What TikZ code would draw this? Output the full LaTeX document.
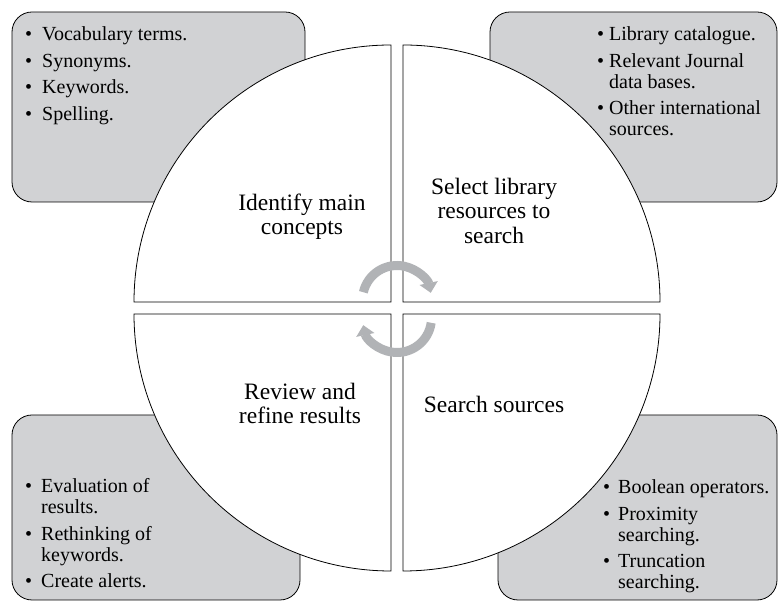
\documentclass[tikz,border=0pt]{standalone}
\usepackage{fontspec}
\setmainfont{Liberation Serif}
\usepackage{xcolor}
\usepackage{tikz}
\usetikzlibrary{arrows.meta,positioning}
\definecolor{notegray}{RGB}{209,210,212}
\definecolor{cyclegray}{RGB}{177,179,182}

\begin{document}
\begin{tikzpicture}[x=1pt,y=1pt]
                \tikzstyle{note} = [draw, fill=notegray, rounded corners=20pt, line width=0.8pt]
                \tikzstyle{quarter} = [draw, fill=white, line width=0.8pt]
                \tikzstyle{stage} = [align=center, inner sep=0pt, font=\fontsize{23.5}{24.5}\selectfont]
                \tikzstyle{notetext} = [anchor=base west, inner sep=0pt, font=\fontsize{20}{21}\selectfont]
                \tikzstyle{cycle} = [cyclegray, line width=9pt, -{Triangle[length=10pt,width=18pt]}]
                
                \useasboundingbox (0,0) rectangle (778,601);
                
                \draw [note] (12,399) rectangle (305,589);
                \draw [note] (490,399) rectangle (777,589);
                \draw [note] (12,1) rectangle (300,186);
                \draw [note] (498,1) rectangle (777,186);
                
                \draw [quarter] (391,299) -- ++(-257,0) arc (180:90:257) -- cycle;
                \draw [quarter] (403,299) -- ++(0,257) arc (90:0:257) -- cycle;
                \draw [quarter] (391,287) -- ++(0,-257) arc (270:180:257) -- cycle;
                \draw [quarter] (403,287) -- ++(257,0) arc (0:-90:257) -- cycle;
                
                \node [stage] (identify) at (302,384.5) {Identify main\\concepts};
                \node [stage] (select) at (494,390.5) {Select library\\resources to\\search};
                \node [stage] (review) at (300,197.5) {Review and\\refine results};
                \node [stage] (search-sources) at (494,197) {Search sources};
                
                \node [notetext] (concepts-notes) at (25,560) {\begin{tabular}[t]{@{}l@{\hspace{10pt}}l@{}}
                    \textbullet & Vocabulary terms.\\[5.5pt]
                    \textbullet & Synonyms.\\[5.5pt]
                    \textbullet & Keywords.\\[5.5pt]
                    \textbullet & Spelling.
                \end{tabular}};
                \node [notetext] (resources-notes) at (597,560) {\begin{tabular}[t]{@{}l@{\hspace{5pt}}l@{}}
                    \textbullet & Library catalogue.\\[5.5pt]
                    \textbullet & Relevant Journal\\
                                & data bases.\\[5.5pt]
                    \textbullet & Other international\\
                                & sources.
                \end{tabular}};
                \node [notetext] (review-notes) at (25,108) {\begin{tabular}[t]{@{}l@{\hspace{9pt}}l@{}}
                    \textbullet & Evaluation of\\
                                & results.\\[5.5pt]
                    \textbullet & Rethinking of\\
                                & keywords.\\[5.5pt]
                    \textbullet & Create alerts.
                \end{tabular}};
                \node [notetext] (sources-notes) at (603,107) {\begin{tabular}[t]{@{}l@{\hspace{8pt}}l@{}}
                    \textbullet & Boolean operators.\\[5.5pt]
                    \textbullet & Proximity\\
                                & searching.\\[5.5pt]
                    \textbullet & Truncation\\
                                & searching.
                \end{tabular}};
                
                \coordinate (hub-top) at (397,301);
                \coordinate (hub-bottom) at (397,283);
                \draw [cycle] ([shift={(167:34.5)}]hub-top) arc (167:12:34.5);
                \draw [cycle] ([shift={(-8:34.5)}]hub-bottom) arc (-8:-168:34.5);
                \end{tikzpicture}
\end{document}
